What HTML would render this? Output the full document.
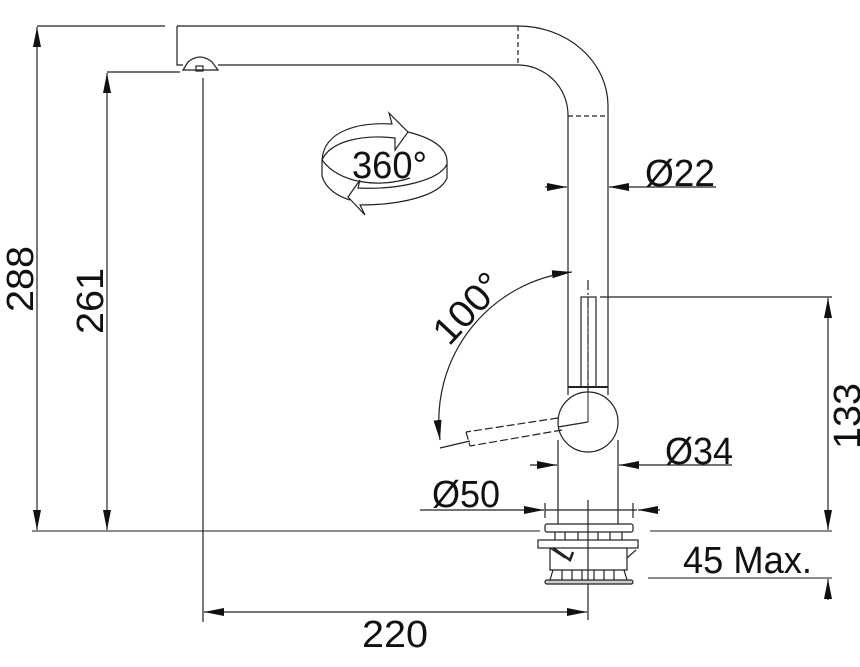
<!DOCTYPE html>
<html><head><meta charset="utf-8"><style>
html,body{margin:0;padding:0;background:#fff}
svg{display:block}
text{font-family:"Liberation Sans",sans-serif;fill:#111}
</style></head><body>
<svg width="860" height="667" viewBox="0 0 860 667" xmlns="http://www.w3.org/2000/svg">
<defs>
<marker id="a" viewBox="0 0 20 8" refX="20" refY="4" markerWidth="20" markerHeight="8" markerUnits="userSpaceOnUse" orient="auto-start-reverse"><path d="M0,0L20,4L0,8z" fill="#111"/></marker>
</defs>
<g stroke="#222" stroke-width="1.2" fill="none">
<line x1="37" y1="26" x2="165" y2="26"/>
<line x1="37" y1="27" x2="37" y2="530" marker-start="url(#a)" marker-end="url(#a)"/>
<line x1="107" y1="72" x2="180" y2="72"/>
<line x1="107" y1="73" x2="107" y2="530" marker-start="url(#a)" marker-end="url(#a)"/>
<line x1="32" y1="531" x2="540" y2="531" stroke="#666" stroke-width="1.6"/>
<line x1="650" y1="531" x2="832" y2="531" stroke="#666" stroke-width="1.6"/>
<line x1="203" y1="78" x2="203" y2="622"/>
<line x1="588" y1="500" x2="588" y2="620"/>
<line x1="204" y1="612" x2="587" y2="612" marker-start="url(#a)" marker-end="url(#a)"/>
<line x1="600" y1="297" x2="832" y2="297"/>
<line x1="828" y1="298" x2="828" y2="530" marker-start="url(#a)" marker-end="url(#a)"/>
<line x1="648" y1="578" x2="832" y2="578" stroke="#666" stroke-width="1.6"/>
<line x1="828" y1="600" x2="828" y2="579" marker-end="url(#a)"/>
<line x1="545" y1="187" x2="567" y2="187" marker-end="url(#a)"/>
<line x1="716" y1="187" x2="609" y2="187" marker-end="url(#a)"/>
<line x1="530" y1="465" x2="557" y2="465" marker-end="url(#a)"/>
<line x1="732" y1="465" x2="619" y2="465" marker-end="url(#a)"/>
<line x1="420" y1="510" x2="544" y2="510" marker-end="url(#a)"/>
<line x1="545" y1="510" x2="637" y2="510"/>
<line x1="660" y1="510" x2="638" y2="510" marker-end="url(#a)"/>
<line x1="545" y1="503" x2="545" y2="518"/><line x1="633" y1="503" x2="633" y2="518"/>
<path d="M177,26 H518 A90,80 0 0 1 608,106 V395"/>
<path d="M177,26 V65 H183 M218,65 H518 A50,50 0 0 1 568,115 V395"/>
<line x1="518" y1="26" x2="518" y2="65" stroke-dasharray="5,3"/>
<line x1="568" y1="116" x2="608" y2="116" stroke-dasharray="5,3"/>
<path d="M183,70 L188,62 Q200,52 212,62 L218,70 Z"/>
<rect x="196" y="66" width="7" height="5"/>
<rect x="581" y="297" width="15" height="90"/>
<line x1="588" y1="280" x2="588" y2="412" stroke-dasharray="10,3,2,3"/>
<line x1="568" y1="387" x2="608" y2="387" stroke-width="2"/>
<circle cx="588" cy="422" r="30" fill="#fff"/>
<line x1="588" y1="297" x2="588" y2="422" stroke-width="1"/>
<line x1="588" y1="422" x2="558" y2="427"/>
<path d="M558,418 L466,432 M562,430 L470,446 M466,432 L470,446" stroke-dasharray="8,3"/>
<line x1="440" y1="448" x2="470" y2="441"/>
<path d="M572,272 A150,150 0 0 0 440,440" marker-start="url(#a)" marker-end="url(#a)"/>
<line x1="558" y1="440" x2="558" y2="524"/>
<line x1="618" y1="440" x2="618" y2="524"/>
<rect x="545" y="524" width="88" height="8" rx="2"/>
<path d="M555,532 V540 M565,532 V540 M578,532 V540 M598,532 V540 M610,532 V540 M622,532 V540"/>
<rect x="538" y="540" width="100" height="8"/>
<path d="M550,548 V570 H627 V548 M627,558 L636,550 M550,548 L565,558"/>
<path d="M553,548 L570,560 L573,552" stroke-width="2.5"/>
<path d="M553,570 L550,580 M562,570 V580 M572,570 V580 M582,570 V580 M594,570 V580 M604,570 V580 M614,570 V580 M624,570 L627,580"/>
<rect x="545" y="580" width="88" height="4" rx="2" fill="#ccc"/>
<path d="M322,160 C324,130 360,122 392,124 L389,113 L408,132 L395,150 L395,138 C360,134 330,142 322,160 Z"/>
<path d="M408,132 C440,140 448,152 447,164 L447,178 C440,196 400,205 360,205 L365,215 L348,197 L360,180 L358,188 C400,190 440,180 447,164"/>
<path d="M322,160 V176 C326,190 340,197 350,200"/>
<path d="M322,160 C340,184 380,188 410,178"/>
</g>
<g font-size="38">
<text x="645" y="186" textLength="70" lengthAdjust="spacingAndGlyphs">Ø22</text>
<text x="665" y="464" textLength="68" lengthAdjust="spacingAndGlyphs">Ø34</text>
<text x="432" y="507" textLength="68" lengthAdjust="spacingAndGlyphs">Ø50</text>
<text x="683" y="573" textLength="129" lengthAdjust="spacingAndGlyphs">45 Max.</text>
<text x="362" y="647" textLength="66" lengthAdjust="spacingAndGlyphs">220</text>
<text x="352" y="178" textLength="75" lengthAdjust="spacingAndGlyphs">360°</text>
<text transform="translate(33,312) rotate(-90)" textLength="66" lengthAdjust="spacingAndGlyphs">288</text>
<text transform="translate(103,334) rotate(-90)" textLength="66" lengthAdjust="spacingAndGlyphs">261</text>
<text transform="translate(860,449) rotate(-90)" textLength="66" lengthAdjust="spacingAndGlyphs">133</text>
<text transform="translate(449,347) rotate(-47)" textLength="82" lengthAdjust="spacingAndGlyphs">100°</text>
</g>
</svg>
</body></html>
